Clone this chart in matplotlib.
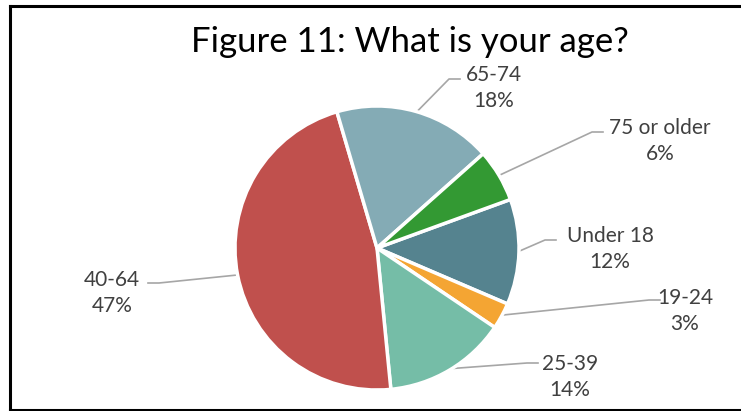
import numpy as np
import matplotlib
matplotlib.use('Agg')
import matplotlib.pyplot as plt
from matplotlib.lines import Line2D

plt.rcParams['font.family'] = ['Lato', 'DejaVu Sans']

# data
categories = ['Under 18', '19-24', '25-39', '40-64', '65-74', '75 or older']
percents = [12, 3, 14, 47, 18, 6]
colors = ['#55838F', '#F4A533', '#75BDA7', '#C0504D', '#84ABB5', '#339933']

# layout in pixel coords (y measured from the top)
W, H = 741, 411
center_px = (377, 248)
radius_px = 142
label_xy = [(610, 249), (685, 311), (570, 377), (112, 293), (494, 88), (660, 141)]
leader_end = [(556, 240), (660, 300), (538, 363), (148, 283), (460, 79), (603, 132)]

fig = plt.figure(figsize=(W / 100, H / 100), dpi=100)
ax = fig.add_axes([0, 0, 1, 1])

wedges, _ = ax.pie(percents, colors=colors, startangle=20, counterclock=False,
                   center=(center_px[0], H - center_px[1]), radius=radius_px,
                   wedgeprops=dict(edgecolor='white', linewidth=2.5))
ax.set_xlim(0, W)
ax.set_ylim(0, H)
ax.set_aspect('equal')
ax.axis('off')

cx, cy = center_px[0], H - center_px[1]
for w, cat, p, (lx, ly), (ex, ey) in zip(wedges, categories, percents, label_xy, leader_end):
    mid = np.deg2rad((w.theta1 + w.theta2) / 2)
    sx = cx + radius_px * 0.99 * np.cos(mid)
    sy = cy + radius_px * 0.99 * np.sin(mid)
    ey = H - ey
    # short horizontal piece next to the label
    elbow = ex - 11 if ex > cx else ex + 11
    ax.plot([sx, elbow, ex], [sy, ey, ey], color='#A6A6A6', lw=1.2, zorder=0)
    ax.text(lx, H - ly, f'{cat}\n{p}%', ha='center', va='center', fontsize=15,
            color='#404040', linespacing=1.35)

ax.text(410, H - 42, 'Figure 11: What is your age?', ha='center', va='center',
        fontsize=25, color='black')

# chart frame
fig.add_artist(Line2D([10 / W, 10 / W], [1 - 6 / H, 1 - 410 / H], color='black', lw=2.2))
fig.add_artist(Line2D([10 / W, 1], [1 - 6 / H, 1 - 6 / H], color='black', lw=2.2))
fig.add_artist(Line2D([10 / W, 1], [1 - 409.5 / H, 1 - 409.5 / H], color='black', lw=2.2))

fig.savefig('out.png', dpi=100)
